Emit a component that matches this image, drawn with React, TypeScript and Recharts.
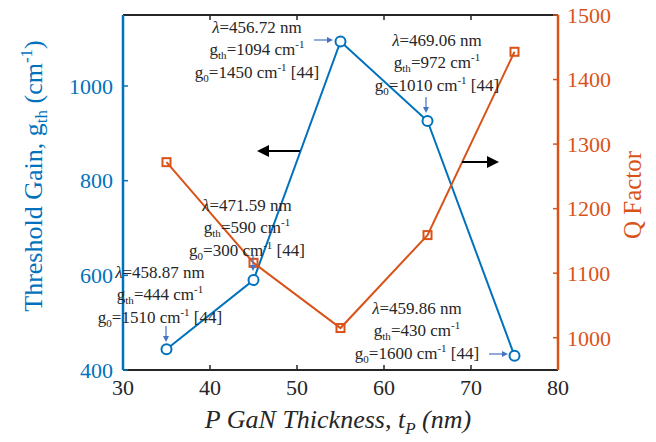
import { ComposedChart, Line, XAxis, YAxis } from 'recharts';

const thickness = [35, 45, 55, 65, 75];
const thresholdGain = [444, 590, 1094, 926, 430];
const qFactor = [1272, 1116, 1015, 1159, 1443];
const xTicks = [30, 40, 50, 60, 70, 80];
const gainTicks = [400, 600, 800, 1000];
const qTicks = [1000, 1100, 1200, 1300, 1400, 1500];

const data = thickness.map((t, i) => ({ t, gth: thresholdGain[i], q: qFactor[i] }));

const BLUE = '#0072BD';
const ORANGE = '#D95319';
const DARK = '#262626';
const ARROW = '#4472C4';
const SERIF = 'Liberation Serif, serif';

const SquareDot = (props: any) => {
  const { cx, cy, index } = props;
  if (cx == null || cy == null) return null;
  return (
    <rect key={`sq-${index}`} x={cx - 4} y={cy - 4} width={8} height={8}
      fill="none" stroke={ORANGE} strokeWidth={2} />
  );
};

const CircleDot = (props: any) => {
  const { cx, cy, index } = props;
  if (cx == null || cy == null) return null;
  return <circle key={`c-${index}`} cx={cx} cy={cy} r={5} fill="#fff" stroke={BLUE} strokeWidth={2} />;
};

// annotation block: lambda, g_th, g_0
const Note = ({ x, y, lam, gth, g0 }: { x: number; y: number; lam: string; gth: string; g0: string }) => (
  <g>
    <text x={x} y={y} fontFamily={SERIF} fontSize={17} fill={DARK} textAnchor="middle">
      <tspan fontStyle="italic">λ</tspan>={lam} nm
    </text>
    <text x={x} y={y + 22} fontFamily={SERIF} fontSize={17} fill={DARK} textAnchor="middle">
      g<tspan fontSize={11} dy={4}>th</tspan>
      <tspan dy={-4}>={gth} cm</tspan>
      <tspan fontSize={11} dy={-7}>-1</tspan>
    </text>
    <text x={x} y={y + 45} fontFamily={SERIF} fontSize={17} fill={DARK} textAnchor="middle">
      g<tspan fontSize={11} dy={4}>0</tspan>
      <tspan dy={-4}>={g0} cm</tspan>
      <tspan fontSize={11} dy={-7}>-1</tspan>
      <tspan dy={7}> [44]</tspan>
    </text>
  </g>
);

const Arrow = ({ x1, y1, x2, y2, color, w, head }: any) => {
  const a = Math.atan2(y2 - y1, x2 - x1);
  const hx1 = x2 - head * Math.cos(a) + (head / 2) * Math.sin(a);
  const hy1 = y2 - head * Math.sin(a) - (head / 2) * Math.cos(a);
  const hx2 = x2 - head * Math.cos(a) - (head / 2) * Math.sin(a);
  const hy2 = y2 - head * Math.sin(a) + (head / 2) * Math.cos(a);
  return (
    <g>
      <line x1={x1} y1={y1} x2={x2 - (head * 0.6) * Math.cos(a)} y2={y2 - (head * 0.6) * Math.sin(a)} stroke={color} strokeWidth={w} />
      <polygon points={`${x2},${y2} ${hx1},${hy1} ${hx2},${hy2}`} fill={color} />
    </g>
  );
};

export default function App() {
  return (
    <div style={{ position: 'absolute', left: 0, top: 0, width: 656, height: 442, background: '#fff' }}>
      <ComposedChart width={656} height={442} data={data} margin={{ top: 0, right: 0, bottom: 0, left: 0 }}>
        <XAxis
          xAxisId="bottom"
          dataKey="t"
          type="number"
          domain={[30, 80]}
          ticks={xTicks}
          height={72}
          axisLine={{ stroke: DARK, strokeWidth: 2 }}
          tickLine={{ stroke: DARK, strokeWidth: 1.5 }}
          tickSize={-5}
          tickMargin={14}
          tick={{ fill: DARK, fontSize: 22, fontFamily: SERIF }}
        />
        <XAxis
          xAxisId="top"
          orientation="top"
          dataKey="t"
          type="number"
          domain={[30, 80]}
          ticks={xTicks}
          height={15}
          axisLine={{ stroke: DARK, strokeWidth: 2 }}
          tickLine={{ stroke: DARK, strokeWidth: 1.5 }}
          tickSize={-5}
          tickFormatter={() => ''}
        />
        <YAxis
          yAxisId="left"
          type="number"
          domain={[400, 1150]}
          ticks={gainTicks}
          width={123}
          allowDataOverflow
          axisLine={{ stroke: BLUE, strokeWidth: 2.5 }}
          tickLine={{ stroke: BLUE, strokeWidth: 1.5 }}
          tickSize={-5}
          tickMargin={15}
          tick={{ fill: BLUE, fontSize: 22, fontFamily: SERIF }}
        />
        <YAxis
          yAxisId="right"
          orientation="right"
          type="number"
          domain={[950, 1500]}
          ticks={qTicks}
          width={98}
          allowDataOverflow
          axisLine={{ stroke: ORANGE, strokeWidth: 2.5 }}
          tickLine={{ stroke: ORANGE, strokeWidth: 1.5 }}
          tickSize={-5}
          tickMargin={14}
          tick={{ fill: ORANGE, fontSize: 22, fontFamily: SERIF }}
        />
        <Line
          xAxisId="bottom"
          yAxisId="left"
          dataKey="gth"
          stroke={BLUE}
          strokeWidth={2}
          dot={CircleDot}
          activeDot={false}
          isAnimationActive={false}
        />
        <Line
          xAxisId="bottom"
          yAxisId="right"
          dataKey="q"
          stroke={ORANGE}
          strokeWidth={2}
          dot={SquareDot}
          activeDot={false}
          isAnimationActive={false}
        />
      </ComposedChart>
      <svg width={656} height={442} style={{ position: 'absolute', left: 0, top: 0, pointerEvents: 'none' }}>
        <Note x={257} y={33} lam="456.72" gth="1094" g0="1450" />
        <Note x={437} y={46} lam="469.06" gth="972" g0="1010" />
        <Note x={247} y={211} lam="471.59" gth="590" g0="300" />
        <Note x={160} y={278} lam="458.87" gth="444" g0="1510" />
        <Note x={417} y={314} lam="459.86" gth="430" g0="1600" />

        <Arrow x1={300} y1={151} x2={257} y2={151} color="#000" w={2} head={12} />
        <Arrow x1={462} y1={162} x2={499} y2={162} color="#000" w={2} head={12} />

        <Arrow x1={314} y1={40} x2={333} y2={40} color={ARROW} w={1.2} head={6} />
        <Arrow x1={426} y1={97} x2={426} y2={113} color={ARROW} w={1.2} head={6} />
        <Arrow x1={253} y1={255} x2={253} y2={271} color={ARROW} w={1.2} head={6} />
        <Arrow x1={166} y1={326} x2={166} y2={342} color={ARROW} w={1.2} head={6} />
        <Arrow x1={489} y1={354} x2={508} y2={354} color={ARROW} w={1.2} head={6} />

        <text transform="translate(42,176) rotate(-90)" textAnchor="middle" fontFamily={SERIF} fontSize={26} fill={BLUE}>
          Threshold Gain, g<tspan fontSize={17} dy={5}>th</tspan>
          <tspan dy={-5}> (cm</tspan>
          <tspan fontSize={17} dy={-10}>-1</tspan>
          <tspan dy={10}>)</tspan>
        </text>
        <text transform="translate(641,195) rotate(-90)" textAnchor="middle" fontFamily={SERIF} fontSize={25} fill={ORANGE}>
          Q Factor
        </text>
        <text x={338} y={428} textAnchor="middle" fontFamily={SERIF} fontSize={26} fontStyle="italic" fill={DARK}>
          P GaN Thickness, t<tspan fontSize={17} dy={6}>P</tspan>
          <tspan dy={-6}> (nm)</tspan>
        </text>
      </svg>
    </div>
  );
}
